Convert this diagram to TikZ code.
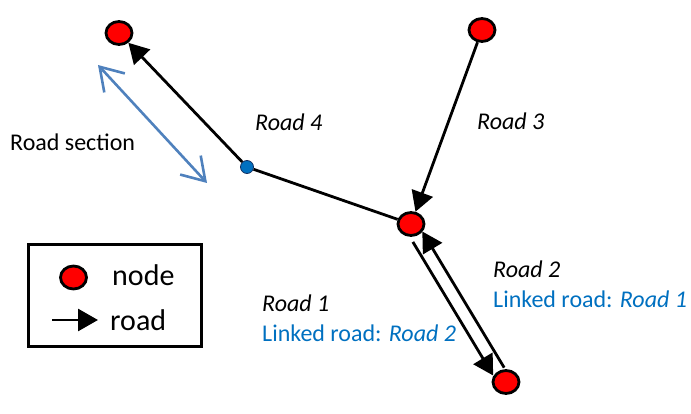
\documentclass[tikz,border=0pt]{standalone}
\usepackage{fontspec}
\setmainfont{Carlito}
\usetikzlibrary{arrows.meta,shapes.geometric,calc}
\definecolor{nodered}{RGB}{255,0,0}
\definecolor{textblue}{RGB}{0,112,192}
\definecolor{arrowblue}{RGB}{79,129,189}
\definecolor{dotblue}{RGB}{0,112,192}
\definecolor{dotborder}{RGB}{20,50,100}
\begin{document}
\begin{tikzpicture}[x=1pt,y=-1pt,
  rnode/.style={ellipse,draw=black,fill=nodered,line width=2.8pt,minimum width=26pt,minimum height=23pt,inner sep=0pt},
  bdot/.style={circle,draw=dotborder,fill=dotblue,line width=0.8pt,minimum size=13pt,inner sep=0pt},
  road/.style={line width=2.8pt,-{Triangle[length=20pt,width=22pt]}},
  plainroad/.style={line width=2.8pt},
  sect/.style={draw=arrowblue,line width=2.6pt,{Straight Barb[length=22pt,width=28pt]}-{Straight Barb[length=22pt,width=28pt]}},
  lbl/.style={inner sep=0pt,anchor=base west,font=\fontsize{24}{28}\selectfont},
  leglbl/.style={inner sep=0pt,anchor=base west,font=\fontsize{30}{36}\selectfont},
  legbox/.style={draw=black,line width=2.8pt,minimum width=173pt,minimum height=102pt,inner sep=0pt}
]
\useasboundingbox (0,0) rectangle (691,414);
% nodes
\node[rnode] (tl) at (119,33) {};
\node[rnode] (tr) at (482,30) {};
\node[rnode] (mid) at (411,224) {};
\node[rnode] (bot) at (506,382) {};
\node[bdot] (sec) at (247,167) {};
% roads
\draw[road] (sec) -- (tl);
\draw[plainroad] (mid) -- (sec);
\draw[road] (tr) -- (mid);
\draw[road,shorten <=3pt,shorten >=-1pt,transform canvas={shift={(-6.5,4)}}] (mid) -- (bot);
\draw[road,shorten >=-1pt,transform canvas={shift={(5,-3)}}] (bot) -- (mid);
% road section
\coordinate (s1) at (98,65);
\coordinate (s2) at (207,183);
\draw[sect] (s1) -- (s2);
% labels
\node[lbl] (lsec) at (10,151) {Road section};
\node[lbl] (l4) at (255,131) {\itshape Road 4};
\node[lbl] (l3) at (477,130) {\itshape Road 3};
\node[lbl] (l2) at (493,278) {\itshape Road 2};
\node[lbl,text=textblue] (l2b) at (493,308) {Linked road: \textit{Road 1}};
\node[lbl] (l1) at (262,312) {\itshape Road 1};
\node[lbl,text=textblue] (l1b) at (262,341) {Linked road: \textit{Road 2}};
% legend
\node[legbox] (legend) at (115,295.5) {};
\node[rnode] (legnode) at (73.5,277.5) {};
\node[leglbl] (legnodetxt) at (112,285) {node};
\coordinate (la) at (52,320);
\coordinate (lb) at (98,320);
\draw[road] (la) -- (lb);
\node[leglbl] (legroadtxt) at (110,330) {road};
\end{tikzpicture}
\end{document}
